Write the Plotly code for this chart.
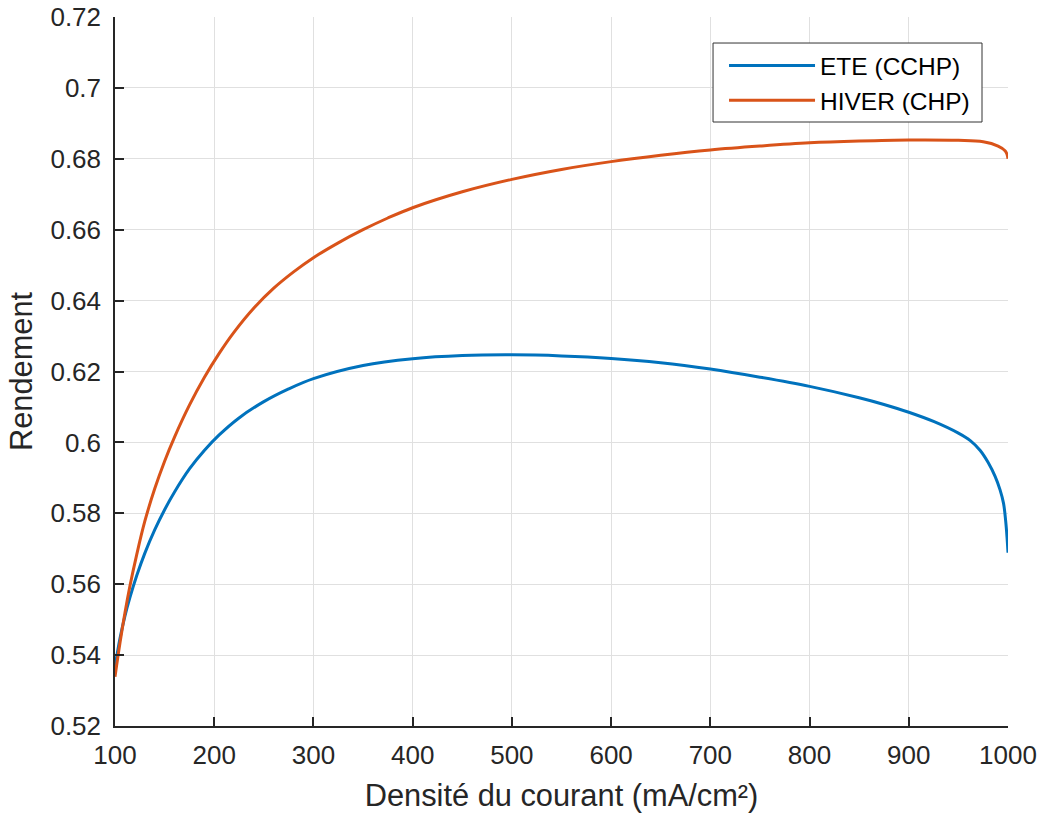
import plotly.graph_objects as go

# ETE (CCHP) - blue curve
ete_x = [100, 105, 110, 115, 122, 130, 140, 150, 160, 175, 190, 205, 225, 250,
         275, 300, 350, 400, 450, 500, 550, 600, 650, 700, 750, 800, 850, 875,
         900, 925, 950, 962, 972, 980, 987, 992, 995.5, 997.6, 999, 1000]
ete_y = [0.5367, 0.5447, 0.5510, 0.5562, 0.5625, 0.5687, 0.5753, 0.5810, 0.5860,
         0.5925, 0.5977, 0.6021, 0.6069, 0.6115, 0.6151, 0.6180, 0.6217, 0.6236,
         0.6245, 0.6247, 0.6244, 0.6237, 0.6225, 0.6207, 0.6184, 0.6158, 0.6126,
         0.6107, 0.6085, 0.6059, 0.6026, 0.6005, 0.5977, 0.5943, 0.5904, 0.5866,
         0.5828, 0.5780, 0.5733, 0.5689]

# HIVER (CHP) - orange curve
hiver_x = [100, 105, 110, 115, 122, 130, 140, 150, 160, 175, 190, 205, 220, 240,
           260, 280, 300, 325, 350, 375, 400, 450, 500, 550, 600, 650, 700, 750,
           800, 850, 900, 950, 975, 990, 997, 999, 1000]
hiver_y = [0.5339, 0.5434, 0.5519, 0.5594, 0.5685, 0.5777, 0.5869, 0.5947, 0.6015,
           0.6105, 0.6183, 0.6251, 0.6311, 0.6379, 0.6435, 0.6481, 0.6521, 0.6563,
           0.6600, 0.6633, 0.6662, 0.6707, 0.6742, 0.6770, 0.6792, 0.6810, 0.6825,
           0.6836, 0.6845, 0.6850, 0.6853, 0.6852, 0.6848, 0.6836, 0.6823, 0.6813,
           0.6800]

x_ticks = [100, 200, 300, 400, 500, 600, 700, 800, 900, 1000]
y_ticks = [0.52, 0.54, 0.56, 0.58, 0.6, 0.62, 0.64, 0.66, 0.68, 0.7, 0.72]

FONT = "Liberation Sans, Arial, Helvetica, sans-serif"
AX = "#262626"

fig = go.Figure()
fig.add_trace(go.Scatter(x=ete_x, y=ete_y, mode="lines", name="ETE (CCHP)",
                         line=dict(color="#0072BD", width=3, shape="spline", smoothing=1.0)))
fig.add_trace(go.Scatter(x=hiver_x, y=hiver_y, mode="lines", name="HIVER (CHP)",
                         line=dict(color="#D95319", width=3, shape="spline", smoothing=1.0)))

fig.update_layout(
    width=1041, height=813,
    margin=dict(l=115, r=33, t=17, b=87),
    paper_bgcolor="white", plot_bgcolor="white",
    font=dict(family=FONT, color=AX, size=24),
    showlegend=True,
    legend=dict(x=0.682, y=0.9633, xanchor="left", yanchor="top",
                bgcolor="rgba(0,0,0,0)", borderwidth=0,
                font=dict(family=FONT, size=24.5, color="black"),
                itemwidth=86, tracegroupgap=0),
    shapes=[dict(type="rect", xref="paper", yref="paper",
                 x0=0.6697, x1=0.9709, y0=0.8519, y1=0.9633,
                 line=dict(color="#333333", width=1), fillcolor="white",
                 layer="above")],
)
fig.update_xaxes(
    range=[100, 1000], tickvals=x_ticks, ticktext=[str(v) for v in x_ticks],
    showline=True, linecolor=AX, linewidth=1.5, mirror=False,
    ticks="inside", ticklen=9, tickwidth=1.5, tickcolor=AX,
    showgrid=True, gridcolor="#e0e0e0", gridwidth=1, zeroline=False,
    tickfont=dict(size=26, color=AX), ticklabelstandoff=5,
    ticklabeloverflow="allow",
    title=dict(text="Densité du courant (mA/cm²)", font=dict(size=30.8, color=AX), standoff=18),
    automargin=False,
)
fig.update_yaxes(
    range=[0.52, 0.72], tickvals=y_ticks, ticktext=[f"{v:g}" for v in y_ticks],
    showline=True, linecolor=AX, linewidth=1.5, mirror=False,
    ticks="inside", ticklen=9, tickwidth=1.5, tickcolor=AX,
    showgrid=True, gridcolor="#e0e0e0", gridwidth=1, zeroline=False,
    tickfont=dict(size=26, color=AX), ticklabelstandoff=7,
    ticklabeloverflow="allow",
    title=dict(text="Rendement", font=dict(size=30.8, color=AX), standoff=9),
    automargin=False,
)

fig.write_html("out.html", config={"displayModeBar": False},
               post_script="document.body.style.margin='0';")
